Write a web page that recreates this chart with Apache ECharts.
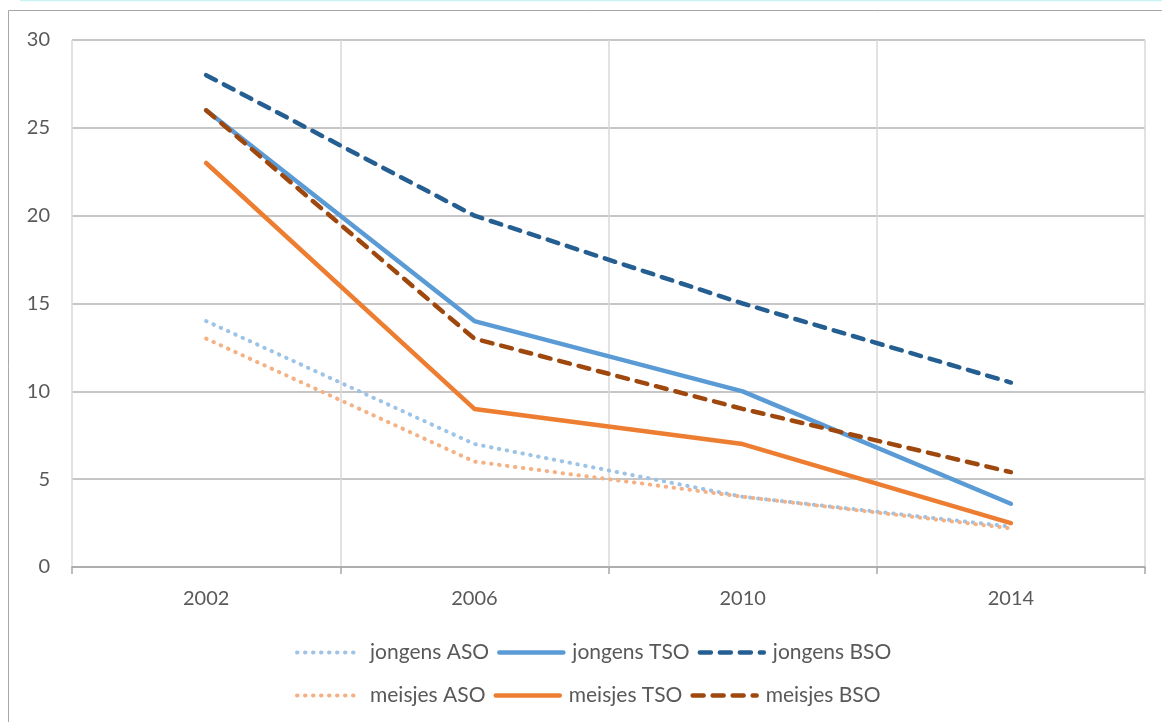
<!DOCTYPE html>
<html>
<head>
<meta charset="utf-8">
<script src="https://cdn.jsdelivr.net/npm/echarts@6/dist/echarts.min.js"></script>
<style>
html,body{margin:0;padding:0;background:#fff;}
#chart{width:1162px;height:722px;}
</style>
</head>
<body>
<div id="chart"></div>
<script>
var years = [2002, 2006, 2010, 2014];
var seriesNames = ['jongens ASO', 'jongens TSO', 'jongens BSO', 'meisjes ASO', 'meisjes TSO', 'meisjes BSO'];
var jongensASO = [14, 7, 4, 2.3];
var jongensTSO = [26, 14, 10, 3.6];
var jongensBSO = [28, 20, 15, 10.5];
var meisjesASO = [13, 6, 4, 2.2];
var meisjesTSO = [23, 9, 7, 2.5];
var meisjesBSO = [26, 13, 9, 5.4];
var yTicks = [0, 5, 10, 15, 20, 25, 30];
var xTickBoundaries = [2000, 2004, 2008, 2012, 2016];

var values = [jongensASO, jongensTSO, jongensBSO, meisjesASO, meisjesTSO, meisjesBSO];
var colors = ['#9dc3e6', '#5b9bd5', '#255e91', '#f4b183', '#ed7d31', '#9e480e'];
var dotted = [0.5, 7.5];
var dashed = [11, 9];
var types = [dotted, 'solid', dashed, dotted, 'solid', dashed];
var widths = [4, 4.5, 4.5, 4, 4.5, 4.5];

function pairs(arr) { return years.map(function (y, i) { return [y, arr[i]]; }); }

var FONT = 'Lato';
var series = seriesNames.map(function (n, i) {
  return {
    name: n,
    type: 'line',
    data: pairs(values[i]),
    symbol: 'none',
    color: colors[i],
    lineStyle: { color: colors[i], width: widths[i], type: types[i], cap: 'round' }
  };
});

function legendFor(names, top) {
  return {
    left: 290, top: top, itemWidth: 64, itemHeight: 14, itemGap: 8,
    data: names.map(function (n) {
      var i = seriesNames.indexOf(n);
      return { name: n, itemStyle: { color: 'transparent', borderColor: 'transparent', borderWidth: 0 },
        lineStyle: { color: colors[i], width: widths[i], type: types[i], cap: 'round' } };
    }),
    textStyle: { fontFamily: FONT, fontSize: 21, color: '#595959', padding: [0, 0, 0, 4] }
  };
}

var chart = echarts.init(document.getElementById('chart'), null, { renderer: 'canvas' });
chart.setOption({
  animation: false,
  backgroundColor: '#fff',
  textStyle: { fontFamily: FONT },
  graphic: [
    { type: 'rect', shape: { x: 8.5, y: 10.5, width: 1300, height: 900 }, style: { fill: 'none', stroke: '#a6a6a6', lineWidth: 1 }, silent: true, z: -10 },
    { type: 'line', shape: { x1: 20, y1: 0.5, x2: 1162, y2: 0.5 }, style: { stroke: '#c8f4f6', lineWidth: 1.5 }, silent: true }
  ],
  grid: { left: 72, right: 17, top: 40, bottom: 155, containLabel: false },
  legend: [
    legendFor(seriesNames.slice(0, 3), 637),
    legendFor(seriesNames.slice(3), 680)
  ],
  xAxis: {
    type: 'value', min: 2000, max: 2016, interval: 2,
    axisLine: { show: true, lineStyle: { color: '#a6a6a6', width: 1.5 } },
    axisTick: { show: true, length: 7, customValues: xTickBoundaries, lineStyle: { color: '#a6a6a6', width: 1.5 } },
    splitLine: { show: true, lineStyle: { color: '#d9d9d9', width: 1.5 } },
    axisLabel: { customValues: years, margin: 22, fontFamily: FONT, fontSize: 20, color: '#595959',
      formatter: function (v) { return String(v); } }
  },
  yAxis: {
    type: 'value', min: 0, max: 30, interval: 5,
    axisLine: { show: false },
    axisTick: { show: false },
    splitLine: { show: true, lineStyle: { color: '#b3b3b3', width: 1.5 } },
    axisLabel: { margin: 22, fontFamily: FONT, fontSize: 20, color: '#595959' }
  },
  series: series
});
</script>
</body>
</html>
